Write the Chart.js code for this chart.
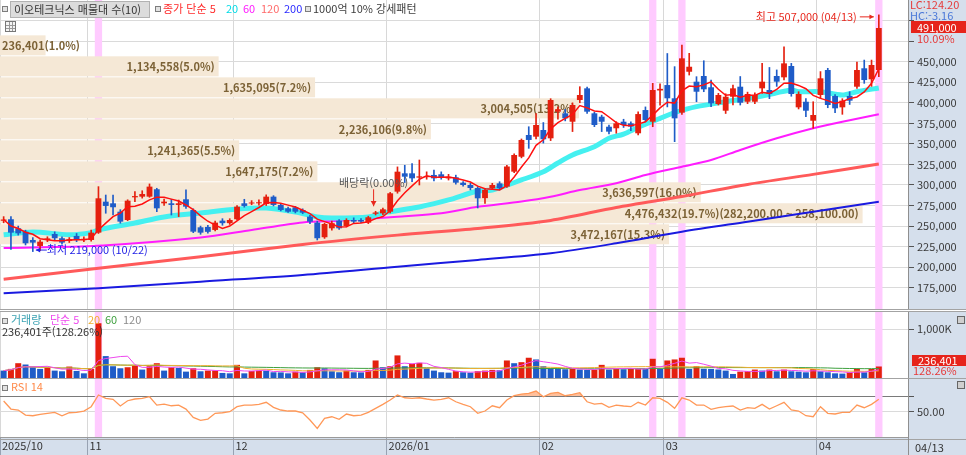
<!DOCTYPE html>
<html lang="ko">
<head>
<meta charset="utf-8">
<title>이오테크닉스 매물대</title>
<script src="https://cdn.jsdelivr.net/npm/chart.js@4.4.1/dist/chart.umd.min.js"></script>
<style>
  html, body { margin: 0; padding: 0; background: #fff; }
  body { position: relative; width: 966px; height: 455px; overflow: hidden;
         font-family: "Noto Sans CJK KR", sans-serif; font-size: 11px; }
  canvas { position: absolute; left: 0; }
  .t { position: absolute; white-space: nowrap; line-height: 13px; font-size: 11px; z-index: 5; }
  .sq { position: absolute; width: 4px; height: 4px; border: 1px solid #7d7d7d; background: #e2e2e2; z-index: 5; }
  .ln { position: absolute; left: 0; width: 966px; height: 1px; background: #a3a3a3; z-index: 4; }
  .box { position: absolute; z-index: 5; color: #fff; line-height: 12px; padding-left: 6px; box-sizing: border-box; font-size: 11px; }
  .ico { position: absolute; width: 6px; height: 6px; border: 1px solid #666; background: #cfcfcf; z-index: 5; }
</style>
</head>
<body>
<canvas id="priceChart" width="966" height="309" style="top:0"></canvas>
<canvas id="volChart" width="966" height="67" style="top:311px"></canvas>
<canvas id="rsiChart" width="966" height="76" style="top:379px"></canvas>

<!-- panel separators -->
<div class="ln" style="top:309px"></div>
<div class="ln" style="top:311px"></div>
<div class="ln" style="top:378px"></div>
<div class="ln" style="top:439px"></div>
<div style="position:absolute;left:908px;top:437px;width:1px;height:18px;background:#8f8f8f;z-index:4"></div>

<!-- price legend -->
<div class="sq" style="left:2px;top:6px"></div>
<div class="t" style="left:10px;top:1px;width:135px;height:15px;background:#dcdcdc;border:1px solid #b2b2b2;color:#333;padding-left:3px;line-height:15px">이오테크닉스 매물대 수(10)</div>
<div class="sq" style="left:155px;top:6px"></div>
<div class="t" style="left:163px;top:2px;color:#ff2a2a">종가 단순 5</div>
<div class="t" style="left:226px;top:2px;color:#00dbe6">20</div>
<div class="t" style="left:243px;top:2px;color:#ff19ff">60</div>
<div class="t" style="left:261px;top:2px;color:#ff6a6a">120</div>
<div class="t" style="left:284px;top:2px;color:#2a2aff">200</div>
<div class="sq" style="left:305px;top:6px"></div>
<div class="t" style="left:313px;top:2px;color:#3c3c3c">1000억 10% 강세패턴</div>
<div style="position:absolute;left:5px;top:21px;width:9px;height:9px;border:1px solid #777;z-index:5;
  background:linear-gradient(#999,#999) 0 3px/100% 1px no-repeat, linear-gradient(#999,#999) 0 6px/100% 1px no-repeat,
  linear-gradient(#999,#999) 3px 0/1px 100% no-repeat, linear-gradient(#999,#999) 6px 0/1px 100% no-repeat, #f4f4f4"></div>

<!-- price axis extras -->
<div class="t" style="left:910px;top:-2px;color:#e63a3a">LC:124.20</div>
<div class="t" style="left:910px;top:9px;color:#4a78d8">HC:-3.16</div>
<div class="box" id="lastBox" style="left:911px;top:21px;width:55px;height:12px;background:#e6241b"></div>
<div class="t" id="lastPct" style="left:917px;top:32px;color:#e63a3a"></div>

<!-- volume legend -->
<div class="sq" style="left:2px;top:318px"></div>
<div class="t" style="left:11px;top:313px;color:#3aa2b2">거래량</div>
<div class="t" style="left:50px;top:313px;color:#ee48ee">단순 5</div>
<div class="t" style="left:88px;top:313px;color:#f0ae30">20</div>
<div class="t" style="left:105px;top:313px;color:#3ea03e">60</div>
<div class="t" style="left:123px;top:313px;color:#8c8c8c">120</div>
<div class="t" id="volInfo" style="left:2px;top:325px;color:#333"></div>
<div class="ico" style="left:957px;top:316px"></div>
<div class="box" id="volBox" style="left:912px;top:355px;width:54px;height:11px;line-height:11px;background:#e6241b"></div>
<div class="t" id="volPct" style="left:913px;top:364px;color:#e63a3a"></div>

<!-- rsi legend -->
<div class="sq" style="left:2px;top:385px"></div>
<div class="t" style="left:11px;top:380px;color:#ff8a4a">RSI 14</div>
<div class="ico" style="left:957px;top:381px"></div>
<div class="t" id="lastDate" style="left:915px;top:441px;color:#333"></div>

<script>
// ---------- data ----------
const monthKeys = ['2025/10', '2025/11', '2025/12', '2026/01', '2026/02', '2026/03', '2026/04'];
const monthLabels = ['2025/10', '11', '12', '2026/01', '02', '03', '04'];
const monthDays = [
  [16, 17, 20, 21, 22, 23, 24, 27, 28, 29, 30, 31],
  [3, 4, 5, 6, 7, 10, 11, 12, 13, 14, 17, 18, 19, 20, 21, 24, 25, 26, 27, 28],
  [1, 2, 3, 4, 5, 8, 9, 10, 11, 12, 15, 16, 17, 18, 19, 22, 23, 24, 26, 29, 30],
  [2, 5, 6, 7, 8, 9, 12, 13, 14, 15, 16, 19, 20, 21, 22, 23, 26, 27, 28, 29, 30],
  [2, 3, 4, 5, 6, 9, 10, 11, 12, 13, 19, 20, 23, 24, 25, 26, 27],
  [3, 4, 5, 6, 9, 10, 11, 12, 13, 16, 17, 18, 19, 20, 23, 24, 25, 26, 27, 30, 31],
  [1, 2, 3, 6, 7, 8, 9, 10, 13]
];

const opens = [256500,258300,247300,243200,233100,225800,233000,240400,235200,232000,
  238000,233000,233100,242000,279700,277700,267500,257400,285000,285800,
  285800,294800,277700,277700,275700,282600,269600,248500,249000,245300,
  256600,253500,258300,277700,277500,277700,276900,285800,275700,271600,
  272900,269600,261500,254200,236400,247300,256600,250100,257400,257400,
  254200,265000,265500,267500,291900,314200,314200,309000,309500,312200,
  313000,308000,309400,302800,300000,296300,284000,296000,302000,298000,
  316200,334400,360800,358800,366900,356800,389200,387200,377000,403400,
  417600,387200,383100,370900,369000,377000,375000,362900,391200,377000,
  415000,421600,405500,388000,437800,425700,432600,418900,398500,390400,
  407400,419600,401300,401300,417600,415600,432600,431000,444800,394500,
  401300,378200,409500,439900,408300,394500,408300,419600,442000,428600,
  439900];
const highs = [261500,261500,250000,245000,236000,233000,237000,243000,237000,236000,
  241000,237000,245000,298000,287800,287800,270000,282000,291900,293000,
  301300,296000,283000,282600,281700,294000,271000,250000,251000,256000,
  259000,259000,275000,282600,281000,282000,288000,287000,277000,273000,
  274000,271000,263000,256000,253500,256000,258000,259000,260000,259000,
  262000,268000,272000,291000,322000,324000,326000,330400,316000,318000,
  316000,313000,312000,304000,302000,298000,296000,302000,304000,324000,
  338000,356000,370900,386900,376000,405000,395000,392000,400000,419600,
  419000,388500,385000,373000,377000,380000,377000,389000,395000,423700,
  423000,460000,444000,470300,460200,431800,451200,427700,411500,411000,
  421600,432000,413000,412000,448000,443000,440000,468200,448000,413500,
  405000,401300,438000,442000,410000,405000,413500,449600,452000,452000,
  507000];
const lows = [254000,221500,239000,227000,219000,220000,231000,233000,228000,230000,
  231000,231000,231500,241000,265600,263600,253500,256600,279700,284000,
  285000,267500,275000,263500,261500,271500,242000,240000,241500,244000,
  251000,252000,257500,273000,276000,275500,275000,274500,268500,266500,
  266000,265000,253000,233100,235000,245000,246000,249000,253500,254000,
  253000,263500,264000,266000,290000,303000,304000,300000,307000,305000,
  307000,306000,301000,298500,294000,272000,277700,294500,294000,297000,
  315000,333000,344600,356000,351000,354000,380000,378000,365000,400000,
  387000,371000,365000,362000,363000,370000,366000,361000,377000,370900,
  397000,395000,352700,386000,433800,401300,413500,395400,397300,387000,
  397300,397300,399000,399000,411500,405000,420000,428000,408000,392500,
  383000,369000,405000,394000,388000,386000,398000,417600,423700,420000,
  431800];
const closes = [258000,242000,241200,229100,229900,231000,235000,235200,229900,234000,
  233000,234500,242000,283800,274500,272900,255400,280900,286500,289000,
  298000,271600,279700,275700,277700,273600,243200,242000,243000,254200,
  253500,257400,273600,274500,278500,279000,285800,275700,269600,267500,
  267500,266300,255400,235200,252600,253500,247300,257400,255400,255400,
  260700,266500,270400,289900,316200,310100,308100,310500,311000,308100,
  309000,310000,302800,300000,296300,283800,294000,300000,296000,322500,
  336500,354800,354800,373000,355600,403400,392200,381100,397300,409500,
  389200,373000,377000,364900,375000,373000,371000,386300,379100,415600,
  417000,405500,381100,454100,443900,413500,416400,399400,409500,407400,
  417600,400100,410700,409500,425700,410700,425700,448000,410700,410700,
  390400,385200,429800,397300,393300,402600,402600,439900,427700,446000,
  491000];
const vols = [152000,187000,304000,277000,221000,187000,215000,152000,138000,235000,
  145000,96000,187000,1125000,450000,242000,200000,221000,256000,173000,
  242000,304000,152000,221000,207000,131000,200000,138000,152000,155000,
  104000,96000,270000,96000,145000,152000,150000,118000,115000,96000,
  131000,118000,166000,221000,200000,138000,118000,152000,118000,115000,
  166000,360000,221000,242000,464000,242000,291000,311000,200000,152000,
  118000,110000,140000,118000,110000,140000,152000,166000,160000,360000,
  304000,325000,416000,381000,242000,200000,190000,180000,187000,173000,
  166000,170000,270000,173000,186000,180000,186000,190000,184000,395000,
  186000,360000,381000,416000,186000,242000,190000,186000,175000,152000,
  83000,130000,140000,173000,152000,173000,138000,173000,138000,130000,
  117000,186000,138000,117000,96000,90000,117000,186000,117000,184314,
  236401];
const rsi = [63.6,53.4,52.2,45.8,44.9,46.7,48.0,49.2,44.9,48.7,
  49.2,50.9,56.4,71.3,67.1,65.8,57.3,64.0,66.2,67.1,
  69.1,58.5,59.8,57.6,58.5,53.4,42.8,39.0,40.7,48.0,
  48.7,50.0,56.4,58.5,58.5,59.4,62.0,55.6,52.2,50.9,
  50.9,48.7,39.4,28.8,41.6,43.6,40.3,47.1,44.9,45.8,
  49.2,54.3,59.4,64.9,71.3,67.8,67.1,67.8,66.2,64.9,
  65.8,67.8,62.7,59.4,56.4,48.0,50.9,57.6,55.1,64.9,
  70.4,72.5,73.4,76.4,69.1,73.4,74.7,70.4,72.1,74.2,
  62.7,59.8,60.7,55.6,58.5,57.3,56.4,62.0,58.5,67.8,
  67.1,62.0,54.3,67.8,64.9,58.5,58.5,53.0,55.1,56.4,
  57.3,52.2,55.1,54.3,59.4,53.4,57.6,62.0,52.2,50.9,
  44.9,43.6,56.4,48.0,47.1,49.2,49.2,58.5,55.1,59.4,
  65.8];

// moving averages (index, value)
const ma20Idx = [0,4,9,12,13,18,22,27,32,36,40,43,45,50,52,57,61,65,67,71,74,76,78,81,83,85,87,90,92,95,99,104,108,109,112,115,117,120];
const ma20 = [239500,242800,239500,242000,245300,253800,261100,266000,270800,272000,267200,261100,259900,261100,266000,273300,281800,292700,293900,306100,316200,326800,336500,346600,356800,362000,370200,381100,388000,395300,401300,408300,415500,413500,413500,409500,413500,418000];
const ma60Idx = [0,13,27,34,41,46,54,60,65,71,75,79,84,88,93,97,101,106,111,115,120];
const ma60 = [223400,226000,236000,245300,254500,256600,261400,265600,273400,280000,285800,293900,302100,312200,322300,330400,342600,356800,369000,377000,386000];
const maLongIdx = [0,13,27,41,54,65,75,84,93,102,111,120];
const ma120 = [185300,198700,212800,227700,239000,247100,256900,272700,286100,300700,312900,325600];
const ma200 = [168300,174300,182400,190500,200600,208800,216900,229100,243200,255400,267500,279700];

// volume profile (매물대), bottom band first
const bandEdges = [227900,253400,279000,304500,330000,355600,381100,406700,432200,457800,483300];
const bandVolumes = [3472167,4476432,3636597,1647175,1241365,2236106,3004505,1635095,1134558,236401];
const maxBandRange = [282200, 258100];

const signalDates = ['2025/11/04', '2026/02/26', '2026/03/05', '2026/04/13'];
const exDividendDate = '2025/12/29';
const exDividendRate = 0;
const priceTicks = [175000,200000,225000,250000,275000,300000,325000,350000,375000,400000,425000,450000,475000,500000];

// ---------- derived ----------
const dates = monthKeys.flatMap((m, k) => monthDays[k].map(d => m + '/' + String(d).padStart(2, '0')));
const monthStarts = [];
monthDays.reduce((acc, days) => { monthStarts.push(acc); return acc + days.length; }, 0);
const N = closes.length;
const RED = '#e4200f', BLUE = '#1f5cc8';
const AXIS_BG = '#d5dfec';
const FONT = '11px "Noto Sans CJK KR", sans-serif';
const fmt = v => Math.round(v).toLocaleString('en-US');
const mmdd = i => dates[i].slice(5);

function sma(arr, n) {
  return arr.map((_, i) => {
    const w = arr.slice(Math.max(0, i - n + 1), i + 1);
    return w.reduce((a, b) => a + b, 0) / w.length;
  });
}
const series = arr => arr.map((v, i) => ({ x: i, y: v }));
const pts = (idx, vals) => idx.map((i, k) => ({ x: i, y: vals[k] }));

const candleColors = closes.map((c, i) => c >= opens[i] ? RED : BLUE);
const volColors = vols.map((v, i) => i > 0 && v > vols[i - 1] ? RED : BLUE);
const signalIdx = signalDates.map(d => dates.indexOf(d));
const bandTotal = bandVolumes.reduce((a, b) => a + b, 0);
const maxBand = Math.max(...bandVolumes);

let hiIdx = 0, loIdx = 0;
highs.forEach((h, i) => { if (h > highs[hiIdx]) hiIdx = i; });
lows.forEach((l, i) => { if (l < lows[loIdx]) loIdx = i; });

// html texts from data
document.getElementById('lastBox').textContent = fmt(closes[N - 1]);
document.getElementById('lastPct').textContent = ((closes[N - 1] / closes[N - 2] - 1) * 100).toFixed(2) + '%';
const volRatio = (vols[N - 1] / vols[N - 2] * 100).toFixed(2) + '%';
document.getElementById('volInfo').textContent = fmt(vols[N - 1]) + '주(' + volRatio + ')';
document.getElementById('volBox').textContent = fmt(vols[N - 1]);
document.getElementById('volPct').textContent = volRatio;
document.getElementById('lastDate').textContent = mmdd(N - 1);

Chart.defaults.font.family = '"Noto Sans CJK KR", sans-serif';
Chart.defaults.font.size = 11;

// ---------- shared pieces ----------
function xAxis(withLabels) {
  const ax = {
    type: 'linear', min: -0.5, max: N + 3, offset: false,
    afterBuildTicks: s => { s.ticks = monthStarts.map(i => ({ value: i - 0.5 })); },
    grid: { color: '#d8d8d8', offset: false, drawTicks: false },
    border: { display: false },
    ticks: { display: false }
  };
  if (withLabels) {
    ax.afterFit = s => { s.height = 18; };
    ax.grid = { color: '#d8d8d8', offset: false, drawTicks: true, tickLength: 18, tickColor: '#98a2b2' };
    ax.border = { display: true, color: '#9a9a9a' };
    ax.ticks = { display: true, autoSkip: false, maxRotation: 0, align: 'start', labelOffset: 2,
      padding: -16, color: '#333', font: { size: 11 }, callback: (v, k) => monthLabels[k] };
  }
  return ax;
}

function yAxis(min, max, ticks, gridColor) {
  return {
    position: 'right', min, max,
    afterBuildTicks: s => { s.ticks = ticks.map(v => ({ value: v })); },
    afterFit: s => { s.width = 58; },
    ticks: { display: false },
    grid: { color: gridColor || '#dadada', drawTicks: true, tickLength: 6, tickColor: '#555' },
    border: { color: '#8f8f8f' }
  };
}

const axisBg = {
  id: 'axisBg',
  beforeDraw(chart) {
    const { ctx, chartArea: a, width, height } = chart;
    ctx.save();
    ctx.fillStyle = AXIS_BG;
    ctx.fillRect(a.right, 0, width - a.right, height);
    if (height - a.bottom > 2) ctx.fillRect(0, a.bottom, a.right, height - a.bottom);
    ctx.restore();
  }
};

function drawSignals(chart) {
  const { ctx, chartArea: a, scales: { x } } = chart;
  const slot = x.getPixelForValue(1) - x.getPixelForValue(0);
  ctx.save();
  ctx.fillStyle = '#ffcbff';
  signalIdx.forEach(i => {
    ctx.fillRect(x.getPixelForValue(i) - slot / 2, a.top, slot, a.bottom - a.top);
  });
  ctx.restore();
}
const signalPlugin = { id: 'signals', beforeDatasetsDraw: drawSignals };

function yLabels(format) {
  return {
    id: 'yLabels',
    afterDraw(chart) {
      const { ctx } = chart;
      const s = chart.scales.y;
      ctx.save();
      ctx.font = FONT;
      ctx.fillStyle = '#3a3a3a';
      ctx.textAlign = 'left';
      ctx.textBaseline = 'middle';
      s.ticks.forEach(t => {
        const txt = format(t.value);
        if (txt) ctx.fillText(txt, s.left + 9, s.getPixelForValue(t.value));
      });
      ctx.restore();
    }
  };
}

function arrow(ctx, x1, y1, x2, y2, head) {
  const ang = Math.atan2(y2 - y1, x2 - x1);
  ctx.beginPath();
  ctx.moveTo(x1, y1);
  ctx.lineTo(x2, y2);
  ctx.stroke();
  ctx.beginPath();
  ctx.moveTo(x2, y2);
  ctx.lineTo(x2 - head * Math.cos(ang - 0.5), y2 - head * Math.sin(ang - 0.5));
  ctx.lineTo(x2 - head * Math.cos(ang + 0.5), y2 - head * Math.sin(ang + 0.5));
  ctx.closePath();
  ctx.fill();
}

// price chart underlay: signal bands, then volume profile bands with labels
const profilePlugin = {
  id: 'profile',
  beforeDatasetsDraw(chart) {
    drawSignals(chart);
    const { ctx, chartArea: a, scales: { y, vp } } = chart;
    ctx.save();
    ctx.font = 'bold 11px "Noto Sans CJK KR", sans-serif';
    ctx.textBaseline = 'middle';
    bandVolumes.forEach((v, k) => {
      const top = y.getPixelForValue(bandEdges[k + 1]);
      const bot = y.getPixelForValue(bandEdges[k]);
      const right = vp.getPixelForValue(v);
      ctx.fillStyle = '#f5e8d6';
      ctx.fillRect(a.left, top + 1, right - a.left, bot - top - 1);
      let txt = fmt(v) + '(' + (v / bandTotal * 100).toFixed(1) + '%)';
      if (v === maxBand) {
        txt += '(' + maxBandRange.map(p => p.toLocaleString('en-US', { minimumFractionDigits: 2 })).join(' ~ ') + ')';
      }
      const w = ctx.measureText(txt).width;
      const tx = Math.max(right - w - 4, a.left + 2);
      ctx.fillStyle = '#7c6236';
      ctx.textAlign = 'left';
      ctx.fillText(txt, tx, (top + bot) / 2 + 1);
    });
    ctx.restore();
  }
};

const markerPlugin = {
  id: 'markers',
  afterDatasetsDraw(chart) {
    const { ctx, scales: { x, y } } = chart;
    ctx.save();
    ctx.font = FONT;
    ctx.textBaseline = 'middle';
    ctx.lineWidth = 1;

    // highest
    const hx = x.getPixelForValue(hiIdx), hy = y.getPixelForValue(highs[hiIdx]) + 2;
    ctx.fillStyle = ctx.strokeStyle = '#e8281e';
    arrow(ctx, hx - 19, hy, hx - 5, hy, 5);
    ctx.textAlign = 'right';
    ctx.fillText('최고 ' + fmt(highs[hiIdx]) + ' (' + mmdd(hiIdx) + ')', hx - 22, hy);

    // lowest
    const lx = x.getPixelForValue(loIdx), ly = y.getPixelForValue(lows[loIdx]) - 1.5;
    ctx.fillStyle = ctx.strokeStyle = '#2323e6';
    arrow(ctx, lx + 14, ly, lx + 3, ly, 5);
    ctx.textAlign = 'left';
    ctx.fillText('최저 ' + fmt(lows[loIdx]) + ' (' + mmdd(loIdx) + ')', lx + 14, ly);

    // ex-dividend
    const di = dates.indexOf(exDividendDate);
    const dx = x.getPixelForValue(di) - 2, dy = y.getPixelForValue(highs[di]);
    ctx.fillStyle = ctx.strokeStyle = '#e8281e';
    arrow(ctx, dx, dy - 22, dx, dy - 5, 6);
    ctx.fillStyle = '#555';
    ctx.textAlign = 'center';
    ctx.fillText('배당락(' + exDividendRate.toFixed(2) + '%)', dx, dy - 28);
    ctx.restore();
  }
};

const common = {
  responsive: false,
  animation: false,
  events: [],
  layout: { padding: 0 },
  plugins: { legend: { display: false }, tooltip: { enabled: false } }
};

// ---------- price ----------
const line = (label, data, color, width, order, tension) => ({
  type: 'line', label, data, borderColor: color, borderWidth: width, pointRadius: 0,
  fill: false, tension: tension, order
});

new Chart(document.getElementById('priceChart'), {
  type: 'bar',
  data: {
    datasets: [
      line('200', pts(maLongIdx, ma200), '#1a1ae0', 2, 9, 0.3),
      line('120', pts(maLongIdx, ma120), '#ff5a5a', 3, 8, 0.3),
      line('60', pts(ma60Idx, ma60), '#ff1cff', 2, 7, 0.3),
      line('20', pts(ma20Idx, ma20), '#45f0f0', 5, 6, 0.3),
      {
        label: 'wick', data: closes.map((c, i) => ({ x: i, y: [lows[i], highs[i]] })),
        backgroundColor: candleColors, maxBarThickness: 1, grouped: false,
        categoryPercentage: 1, barPercentage: 1, order: 4
      },
      {
        label: 'body', data: closes.map((c, i) => ({ x: i, y: [opens[i], c] })),
        backgroundColor: candleColors, grouped: false, minBarLength: 1,
        categoryPercentage: 1, barPercentage: 0.8, order: 3
      },
      line('5', series(sma(closes, 5)), '#ff1010', 1.5, 1, 0)
    ]
  },
  options: {
    ...common,
    scales: {
      x: xAxis(false),
      vp: { type: 'linear', axis: 'x', display: false, offset: false, bounds: 'data',
            grid: { offset: false }, min: 0, max: maxBand / 0.95 },
      y: yAxis(149100, 525100, priceTicks)
    }
  },
  plugins: [axisBg, profilePlugin, markerPlugin, yLabels(v => v <= 450000 ? fmt(v) : '')]
});

// ---------- volume ----------
new Chart(document.getElementById('volChart'), {
  type: 'bar',
  data: {
    datasets: [
      {
        label: '거래량', data: series(vols), backgroundColor: volColors,
        categoryPercentage: 1, barPercentage: 0.82, grouped: false, order: 5
      },
      line('60', series(sma(vols, 60)), '#3ea03e', 1, 3, 0),
      line('20', series(sma(vols, 20)), '#f0ae30', 1, 2, 0),
      line('5', series(sma(vols, 5)), '#ee48ee', 1, 1, 0)
    ]
  },
  options: {
    ...common,
    scales: { x: xAxis(false), y: yAxis(0, 1376000, [1000000]) }
  },
  plugins: [axisBg, signalPlugin, yLabels(v => fmt(v / 1000) + 'K')]
});

// ---------- RSI ----------
new Chart(document.getElementById('rsiChart'), {
  type: 'line',
  data: {
    datasets: [{
      label: 'RSI 14', data: series(rsi), borderColor: '#ff9858', borderWidth: 1.3,
      pointRadius: 0, tension: 0,
      fill: { target: { value: 70 }, above: 'rgba(255,150,90,0.6)', below: 'rgba(0,0,0,0)' }
    }]
  },
  options: {
    ...common,
    scales: {
      x: xAxis(true),
      y: yAxis(17.8, 91.7, [50, 70], c => (c.tick && c.tick.value === 70) ? '#7a7a7a' : '#dadada')
    }
  },
  plugins: [axisBg, signalPlugin, yLabels(v => v === 50 ? v.toFixed(2) : '')]
});
</script>
</body>
</html>
